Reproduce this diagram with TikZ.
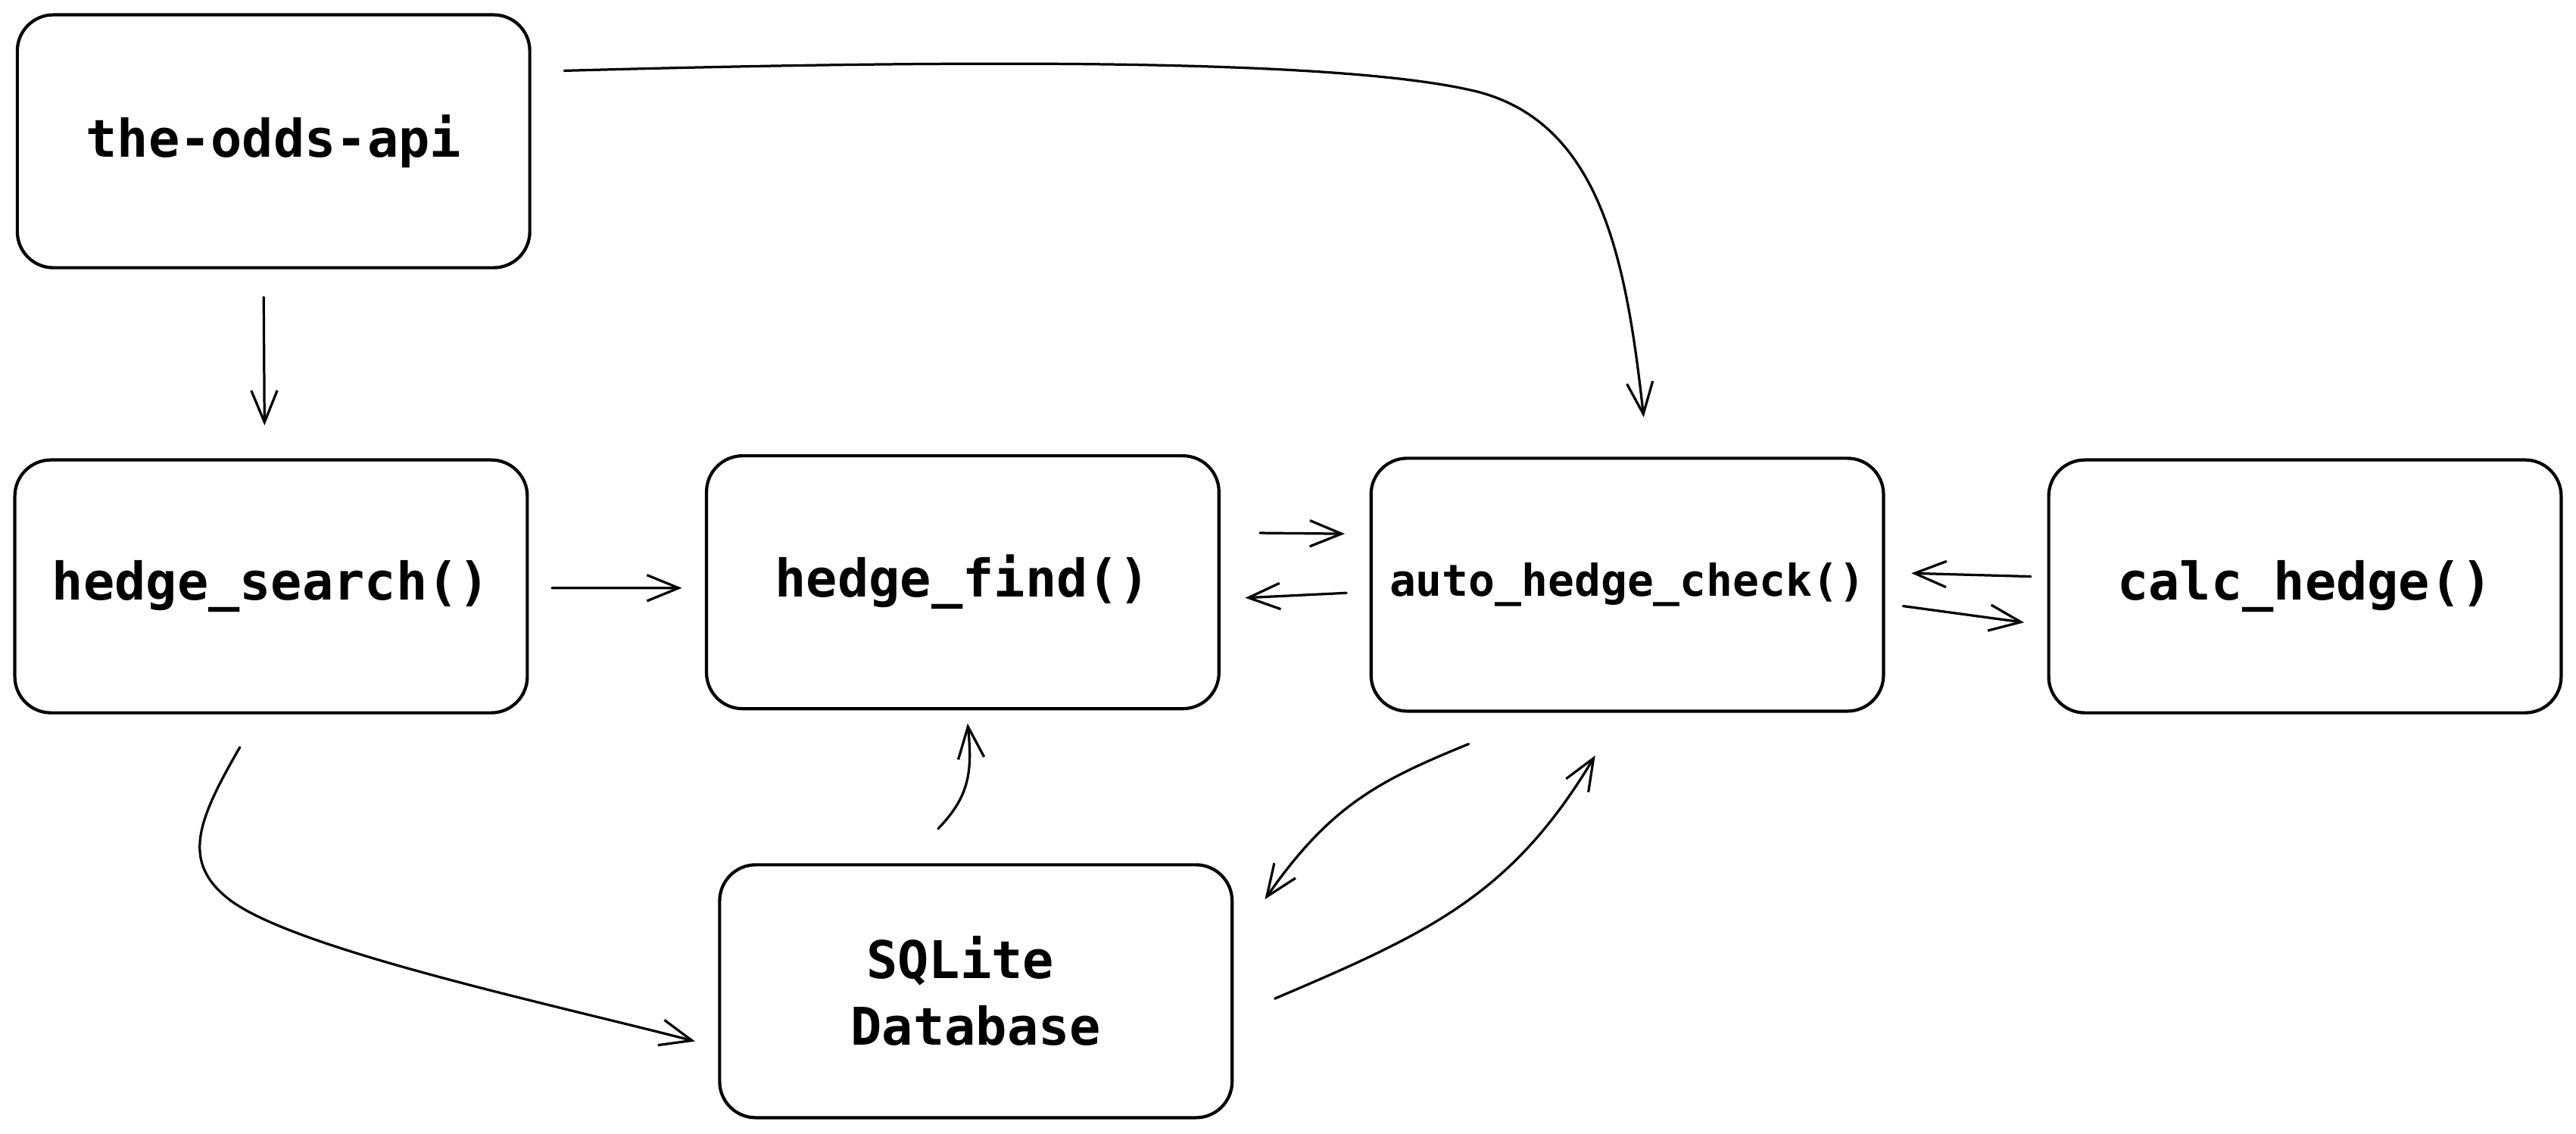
\documentclass[tikz,border=0pt]{standalone}
\usepackage{fontspec}
\setmonofont{DejaVu Sans Mono}
\usepackage{tikz}
\usetikzlibrary{arrows.meta, positioning}

\tikzset{
	box/.style={draw, line width=1.1pt, rounded corners=0.44cm, minimum width=6.24cm, minimum height=3.08cm, align=center, font=\ttfamily\bfseries\fontsize{18}{23}\selectfont},
	arr/.style={line width=0.85pt, line cap=round, -{Straight Barb[length=11pt, width=9pt, line width=0.85pt]}}
}

\begin{document}
\begin{tikzpicture}[x=0.02cm, y=-0.02cm]
	\fill[white] (0, 0) rectangle (1568, 690);
	% Boxes:
	\node[box](odds) at (166.5, 86){the-odds-api};
	\node[box](search) at (165, 357){hedge\_search()};
	\node[box](find) at (586, 354.5){hedge\_find()};
	\node[box, font=\ttfamily\bfseries\fontsize{15.2}{18}\selectfont](auto) at (990.5, 356){auto\_hedge\_check()};
	\node[box](calc) at (1403, 357){calc\_hedge()};
	\node[box](db) at (594, 603.5){SQLite\hphantom{x}\\Database};
	% Arrows:
	\draw[arr] ([shift={(-6, 17)}]odds.south) -- ([shift={(-4, -20)}]search.north);
	\draw[arr] ([shift={(20, 35)}]odds.north east) .. controls (600, 36) and (820, 36) .. (900, 56) .. controls (975, 76) and (990, 160) .. ([shift={(10, -24)}]auto.north);
	\draw[arr] ([shift={(14, 1)}]search.east) -- ([shift={(-14, 3.5)}]find.west);
	\draw[arr] ([shift={(24, -30)}]find.east) -- ([shift={(-15, -31)}]auto.west);
	\draw[arr] ([shift={(-14, 5)}]auto.west) -- ([shift={(15, 9.5)}]find.east);
	\draw[arr] ([shift={(-10, -6)}]calc.west) -- ([shift={(16, -7)}]auto.east);
	\draw[arr] ([shift={(11, 13)}]auto.east) -- ([shift={(-14, 22)}]calc.west);
	\draw[arr] ([shift={(-19, 20)}]search.south) .. controls (120, 500) and (110, 525) .. (140, 548) .. controls (180, 578) and (330, 610) .. ([shift={(-14, 30.5)}]db.west);
	\draw[arr] ([shift={(-23, -21)}]db.north) .. controls (590, 485) and (592, 470) .. ([shift={(3, 8)}]find.south);
	\draw[arr] ([shift={(-96.5, 19)}]auto.south) .. controls (840, 475) and (810, 490) .. ([shift={(19, 22)}]db.north east);
	\draw[arr] ([shift={(25, 4.5)}]db.east) .. controls (870, 568) and (920, 545) .. ([shift={(-19.5, 26)}]auto.south);
\end{tikzpicture}
\end{document}
